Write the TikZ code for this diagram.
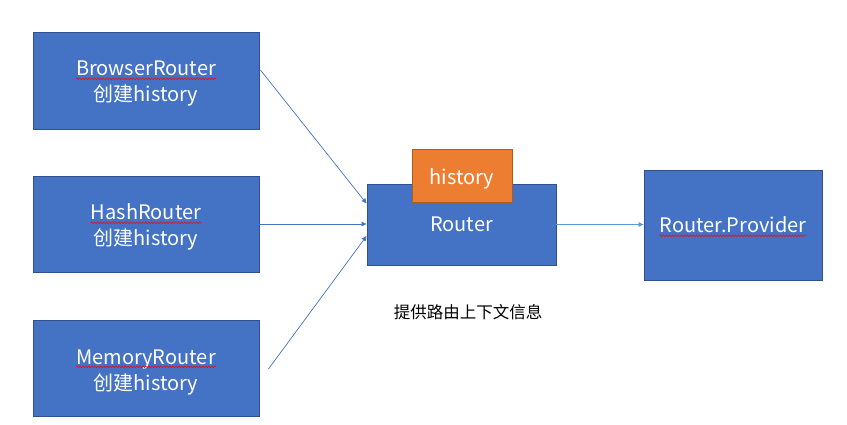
\documentclass[tikz,border=0pt]{standalone}
\usepackage{fontspec}
\setmainfont{Noto Sans CJK SC}
\usepackage{tikz}
\usetikzlibrary{arrows.meta,positioning,calc,decorations.pathmorphing}
\definecolor{boxblue}{HTML}{4472C4}
\definecolor{boxedge}{HTML}{2F528F}
\definecolor{histfill}{HTML}{ED7D31}
\definecolor{histedge}{HTML}{AE5A21}
\definecolor{linkblue}{HTML}{5B9BD5}

\begin{document}
\begin{tikzpicture}[x=1pt,y=-1pt,
  font=\fontsize{20}{24}\selectfont,
  >={Triangle[length=5pt,width=4.5pt]},
  box/.style={draw=boxedge, fill=boxblue, line width=0.9pt, text=white, inner sep=0pt},
  histbox/.style={draw=histedge, fill=histfill, line width=0.9pt, text=white, inner sep=0pt},
  txt/.style={text=white, inner sep=0pt, anchor=base},
  squig/.style={draw=red, line width=0.45pt, decorate, decoration={snake, segment length=3pt, amplitude=1pt}},
  conn/.style={draw=boxblue, line width=0.7pt, ->},
]
\useasboundingbox (0,0) rectangle (847,425);
% ---------------- left column ----------------
\node[box, minimum width=226, minimum height=97] (browser) at (146,80.5) {};
\node[box, minimum width=226, minimum height=96] (hash) at (146,224) {};
\node[box, minimum width=226, minimum height=96] (memory) at (146,368) {};
\node[txt] (browsert) at (146,76) {BrowserRouter};
\node[txt] (browserh) at (146,102) {创建history};
\node[txt] (hasht) at (146,220) {HashRouter};
\node[txt] (hashh) at (146,246) {创建history};
\node[txt] (memoryt) at (146,364) {MemoryRouter};
\node[txt] (memoryh) at (146,390) {创建history};
% ---------------- router ----------------
\node[box, minimum width=189, minimum height=81] (router) at (461.5,224.5) {};
\node[txt] (routert) at (461.5,232) {Router};
\node[histbox, minimum width=100, minimum height=53] (hist) at (462,175.5) {};
\node[txt] (histt) at (462,185) {history};
\node[inner sep=0pt, font=\fontsize{16.5}{18}\selectfont] (ctx) at (468,312) {提供路由上下文信息};
% ---------------- provider ----------------
\node[box, minimum width=178, minimum height=110] (provider) at (733,225) {};
\node[txt] (providert) at (733,233) {Router.Provider};
% ---------------- spell marks ----------------
\foreach \n in {browsert,hasht,memoryt,providert}
  \draw[squig] ([yshift=-2.8]\n.base west) -- ([yshift=-2.8]\n.base east);
% ---------------- connectors ----------------
\draw[conn] ([xshift=1,yshift=10.5]browser.east) -- ([yshift=21]router.west);
\draw[conn] (hash.east) -- (router.west |- hash.east);
\draw[conn] ([xshift=9,yshift=-1]memory.east) -- ([yshift=-11.5]router.west);
\draw[conn, draw=linkblue] (router.east) -- (provider.west |- router.east);
\end{tikzpicture}
\end{document}
